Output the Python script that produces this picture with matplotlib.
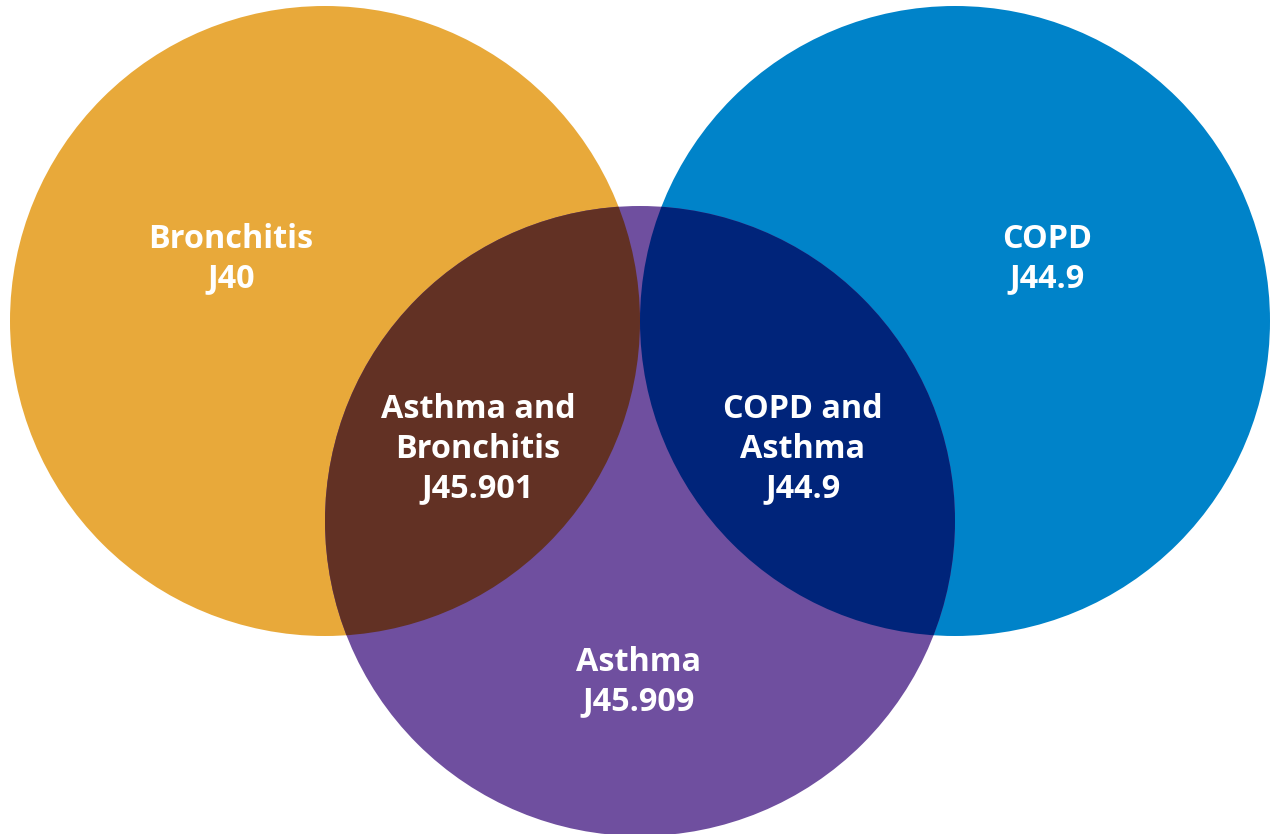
import matplotlib.pyplot as plt
from matplotlib.patches import Circle

# 集合名称与编码
set_names = ['Bronchitis', 'COPD', 'Asthma']
set_codes = ['J40', 'J44.9', 'J45.909']
overlap_names = ['Asthma and\nBronchitis', 'COPD and\nAsthma']
overlap_codes = ['J45.901', 'J44.9']

set_colors = ['#E8A93A', '#0083C9', '#6F4F9F']
overlap_colors = ['#623124', '#00247A']

plt.rcParams['font.family'] = ['Open Sans', 'DejaVu Sans']

fig = plt.figure(figsize=(12.7, 8.34), dpi=100)
ax = fig.add_axes([0, 0, 1, 1])
ax.set_xlim(0, 1270)
ax.set_ylim(834, 0)
ax.set_aspect('equal')
ax.axis('off')

r = 315
centers = [(325, 321), (955, 321), (640, 521)]

circles = []
for (cx, cy), col in zip(centers, set_colors):
    c = Circle((cx, cy), r, color=col, lw=0)
    ax.add_patch(c)
    circles.append(c)

# 交集区域：用底部圆裁剪到左/右圆
for i, col in enumerate(overlap_colors):
    ov = Circle(centers[2], r, color=col, lw=0)
    ax.add_patch(ov)
    ov.set_clip_path(circles[i])

txt = dict(color='white', fontsize=23.3, fontweight='bold', ha='center', va='center', linespacing=1.27)
ax.text(231, 259, f'{set_names[0]}\n{set_codes[0]}', **txt)
ax.text(1047, 259, f'{set_names[1]}\n{set_codes[1]}', **txt)
ax.text(639, 682, f'{set_names[2]}\n{set_codes[2]}', **txt)
ax.text(478, 449, f'{overlap_names[0]}\n{overlap_codes[0]}', **txt)
ax.text(803, 449, f'{overlap_names[1]}\n{overlap_codes[1]}', **txt)

fig.savefig('out.png', dpi=100)
